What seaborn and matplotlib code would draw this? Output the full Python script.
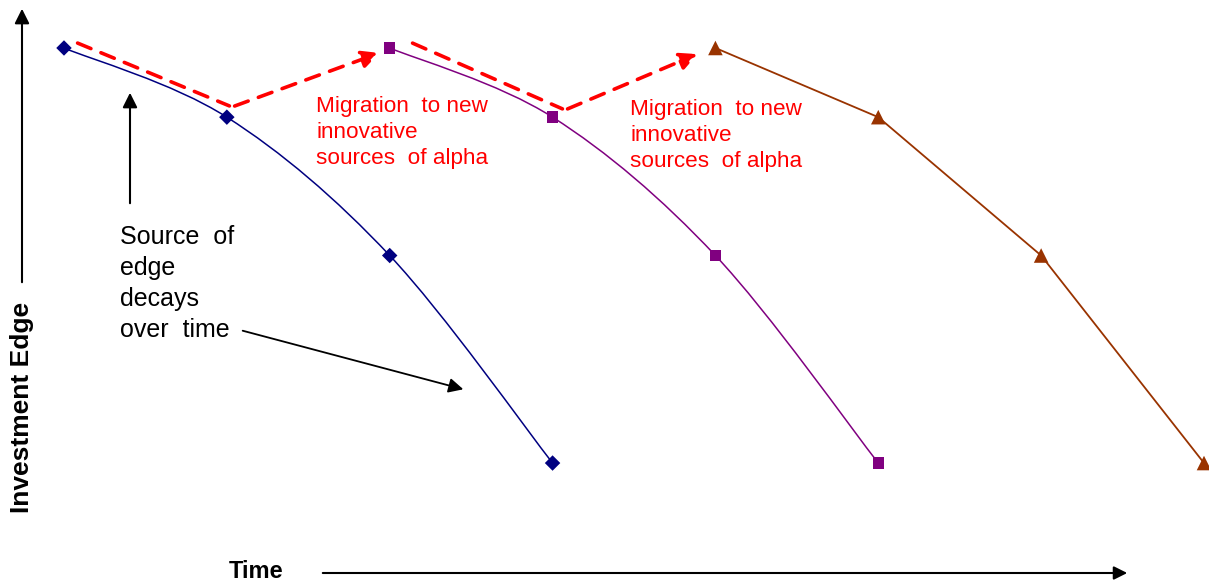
import matplotlib
matplotlib.use("Agg")
import matplotlib.pyplot as plt
from matplotlib.path import Path
from matplotlib.patches import PathPatch
import seaborn as sns
import pandas as pd
import numpy as np

sns.set_theme(style="white")
plt.rcParams['font.family'] = ['Liberation Sans', 'DejaVu Sans']
plt.rcParams['text.color'] = 'black'

# Three sources of alpha, each decaying over time
time_1 = [0, 1, 2, 3]
time_2 = [2, 3, 4, 5]
time_3 = [4, 5, 6, 7]
edge_values = [10, 9, 7, 4]
series_names = ['Source 1', 'Source 2', 'Source 3']
series_colors = ['#000080', '#800080', '#993300']
series_markers = ['D', 's', '^']
marker_sizes = [62, 68, 110]

df = pd.concat([
    pd.DataFrame({'time': t, 'edge': edge_values, 'source': name})
    for t, name in zip([time_1, time_2, time_3], series_names)
])

W, H = 1209, 585
fig = plt.figure(figsize=(W / 100, H / 100), dpi=100)
ax = fig.add_axes([0, 0, 1, 1])

# pixel scale: x=0 -> 64px, 163px per unit; y=10 -> 48px, 69.2px per unit
XLIM = (-64 / 162.9, 7 + 5 / 162.9)
YLIM = (4 - (H - 463) / 69.2, 10 + 48 / 69.2)


def smooth_path(xs, ys):
    # Catmull-Rom style smoothing rendered as cubic Bezier segments
    pts = np.column_stack([xs, ys]).astype(float)
    ext = np.vstack([pts[0], pts, pts[-1]])
    verts = [pts[0]]
    codes = [Path.MOVETO]
    for i in range(1, len(ext) - 2):
        p0, p1, p2, p3 = ext[i - 1], ext[i], ext[i + 1], ext[i + 2]
        verts += [p1 + (p2 - p0) / 6, p2 - (p3 - p1) / 6, p2]
        codes += [Path.CURVE4] * 3
    return Path(verts, codes)


# Smoothed curves for the first two sources, straight segments for the third
for name, color in zip(series_names[:2], series_colors[:2]):
    sub = df[df['source'] == name]
    ax.add_patch(PathPatch(smooth_path(sub['time'], sub['edge']),
                           facecolor='none', edgecolor=color, lw=1.1))

sub3 = df[df['source'] == series_names[2]]
sns.lineplot(data=sub3, x='time', y='edge', color=series_colors[2], lw=1.3, ax=ax)

for name, color, marker, size in zip(series_names, series_colors, series_markers, marker_sizes):
    sns.scatterplot(data=df[df['source'] == name], x='time', y='edge', color=color,
                    marker=marker, s=size, edgecolor='none', legend=False, ax=ax, zorder=5)

ax.set_xlim(*XLIM)
ax.set_ylim(*YLIM)
ax.axis('off')


def fp(px, py):
    return (px / W, 1 - py / H)


# Axis arrows
ax.annotate('', xy=fp(22, 6), xytext=fp(22, 285), xycoords='figure fraction',
            arrowprops=dict(arrowstyle='-|>', color='black', lw=1.5, mutation_scale=22))
ax.annotate('', xy=fp(1130, 573), xytext=fp(320, 573), xycoords='figure fraction',
            arrowprops=dict(arrowstyle='-|>', color='black', lw=1.5, mutation_scale=20))
fig.text(*fp(22, 407), 'Investment Edge', rotation=90, fontsize=19, fontweight='bold',
         color='black', ha='center', va='center')
fig.text(*fp(256, 571), 'Time', fontsize=17, fontweight='bold', color='black',
         ha='center', va='center')

# Red dashed migration arrows
red_kw = dict(color='#ff0000', lw=2.6, linestyle=(0, (4, 3)))
for (x0, y0), (x1, y1), (x2, y2) in [((75, 42), (232, 107), (382, 52)),
                                     ((410, 42), (565, 110), (700, 53))]:
    ax.annotate('', xy=fp(x1, y1), xytext=fp(x0, y0), xycoords='figure fraction',
                arrowprops=dict(arrowstyle='-', **red_kw))
    ax.annotate('', xy=fp(x2, y2), xytext=fp(x1, y1), xycoords='figure fraction',
                arrowprops=dict(arrowstyle='-|>', mutation_scale=26, **red_kw))

for px, py in [(316, 96), (630, 99)]:
    fig.text(*fp(px, py), 'Migration  to new\ninnovative\nsources  of alpha',
             color='#ff0000', fontsize=16.2, linespacing=1.32, ha='left', va='top')

# Decay annotation
fig.text(*fp(120, 225), 'Source  of\nedge\ndecays\nover  time', color='black',
         fontsize=18, linespacing=1.36, ha='left', va='top')
ax.annotate('', xy=fp(130, 90), xytext=fp(130, 206), xycoords='figure fraction',
            arrowprops=dict(arrowstyle='-|>', color='black', lw=1.5, mutation_scale=22))
ax.annotate('', xy=fp(466, 390), xytext=fp(240, 330), xycoords='figure fraction',
            arrowprops=dict(arrowstyle='-|>', color='black', lw=1.3, mutation_scale=22))

plt.savefig('out.png', dpi=100)
